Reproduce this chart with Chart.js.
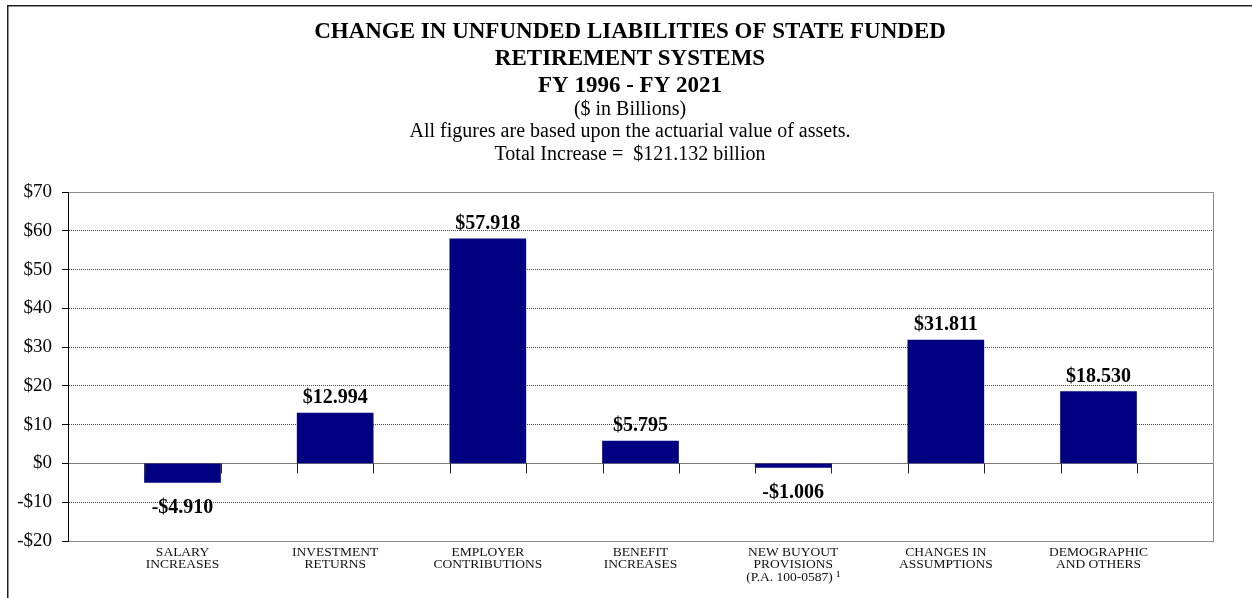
<!DOCTYPE html>
<html>
<head>
<meta charset="utf-8">
<script src="https://cdn.jsdelivr.net/npm/chart.js@4.4.1/dist/chart.umd.min.js"></script>
<style>
  html, body { margin: 0; padding: 0; background: #fff; }
  canvas { display: block; }
</style>
</head>
<body>
<canvas id="c" width="1252" height="598"></canvas>
<script>
// ---- data ----
const categories = [
  ["SALARY", "INCREASES"],
  ["INVESTMENT", "RETURNS"],
  ["EMPLOYER", "CONTRIBUTIONS"],
  ["BENEFIT", "INCREASES"],
  ["NEW BUYOUT", "PROVISIONS", "(P.A. 100-0587) \u00B9"],
  ["CHANGES IN", "ASSUMPTIONS"],
  ["DEMOGRAPHIC", "AND OTHERS"]
];
const values = [-4.910, 12.994, 57.918, 5.795, -1.006, 31.811, 18.530];
const yTicks = [-20, -10, 0, 10, 20, 30, 40, 50, 60, 70];
const titleLines = [
  "CHANGE IN UNFUNDED LIABILITIES OF STATE FUNDED",
  "RETIREMENT SYSTEMS",
  "FY 1996 - FY 2021"
];
const subtitleLines = [
  "($ in Billions)",
  "All figures are based upon the actuarial value of assets.",
  "Total Increase =  $121.132 billion"
];

const SERIF = '"Liberation Serif", "Times New Roman", Times, serif';
const money = v => (v < 0 ? '-$' : '$') + Math.abs(v).toFixed(3);
const moneyTick = v => (v < 0 ? '-$' : '$') + Math.abs(v);

const pagePlugin = {
  id: 'page',
  beforeDraw(chart) {
    const ctx = chart.ctx;
    ctx.save();
    ctx.fillStyle = '#fff';
    ctx.fillRect(0, 0, chart.width, chart.height);
    ctx.fillStyle = '#222';
    ctx.fillRect(7, 5, chart.width - 7, 1.5);
    ctx.fillRect(7, 5, 1.5, chart.height - 5);
    ctx.restore();
  }
};

const labelPlugin = {
  id: 'barLabels',
  afterDatasetsDraw(chart) {
    const ctx = chart.ctx;
    const meta = chart.getDatasetMeta(0);
    const zeroY = chart.scales.y.getPixelForValue(0);
    ctx.save();
    ctx.strokeStyle = '#222';
    ctx.lineWidth = 1;
    meta.data.forEach(bar => {
      const half = bar.width / 2;
      [bar.x - half, bar.x + half].forEach(px => {
        const xx = Math.round(px) + 0.5;
        ctx.beginPath();
        ctx.moveTo(xx, zeroY);
        ctx.lineTo(xx, zeroY + 10);
        ctx.stroke();
      });
    });
    ctx.fillStyle = '#000';
    ctx.font = 'bold 20px ' + SERIF;
    ctx.textAlign = 'center';
    ctx.textBaseline = 'alphabetic';
    meta.data.forEach((bar, i) => {
      const v = values[i];
      const y = v >= 0 ? bar.y - 10 : bar.y + 31;
      ctx.fillText(money(v), bar.x, y);
    });
    ctx.restore();
  }
};

const gridColor = ctx => {
  const v = ctx.tick ? ctx.tick.value : null;
  if (v === 0) return '#7a7a7a';
  if (v === 70 || v === -20) return '#8c8c8c';
  return '#4a4a4a';
};

new Chart(document.getElementById('c'), {
  type: 'bar',
  data: {
    datasets: [{
      data: values.map((v, i) => ({ x: i, y: v })),
      backgroundColor: '#000080',
      borderColor: '#2a2a9a',
      borderWidth: 0,
      barThickness: 76
    }]
  },
  options: {
    responsive: false,
    animation: false,
    devicePixelRatio: 1,
    layout: { padding: { left: 8, right: 0, top: 0, bottom: 0 } },
    plugins: {
      legend: { display: false },
      tooltip: { enabled: false },
      title: {
        display: true,
        text: titleLines,
        color: '#000',
        font: { family: SERIF, size: 23, weight: 'bold', lineHeight: 27 / 23 },
        padding: { top: 19, bottom: 0 }
      },
      subtitle: {
        display: true,
        text: subtitleLines,
        color: '#000',
        font: { family: SERIF, size: 20, weight: 'normal', lineHeight: 22.5 / 20 },
        padding: { top: -2, bottom: 26.5 }
      }
    },
    scales: {
      x: {
        type: 'linear',
        offset: false,
        min: -0.75,
        max: 6.75,
        afterBuildTicks: axis => { axis.ticks = categories.map((_, i) => ({ value: i })); },
        afterFit: axis => { axis.height = 57; },
        grid: { display: false, drawTicks: false, tickLength: 0, offset: false },
        border: { display: true, color: '#8c8c8c', width: 1 },
        ticks: {
          autoSkip: false,
          maxRotation: 0,
          minRotation: 0,
          padding: 5,
          color: '#111',
          font: { family: SERIF, size: 13.5, lineHeight: 0.92 },
          callback: v => categories[v] || ''
        }
      },
      y: {
        min: -20,
        max: 70,
        afterBuildTicks: axis => { axis.ticks = yTicks.map(v => ({ value: v })); },
        afterFit: axis => { axis.width = 60; },
        grid: {
          display: true,
          drawTicks: true,
          tickLength: 6,
          tickColor: '#000',
          color: gridColor,
          lineWidth: 1
        },
        border: {
          display: true,
          color: '#000',
          width: 1,
          dash: ctx => (ctx.tick && ![0, 70, -20].includes(ctx.tick.value)) ? [1, 1] : []
        },
        ticks: {
          padding: 10,
          color: '#000',
          font: { family: SERIF, size: 19 },
          callback: v => moneyTick(v)
        }
      },
      yr: {
        position: 'right',
        display: true,
        min: 0,
        max: 1,
        afterFit: axis => { axis.width = 39; },
        grid: { display: false, drawTicks: false },
        border: { display: true, color: '#8c8c8c', width: 1 },
        ticks: { display: false }
      }
    }
  },
  plugins: [pagePlugin, labelPlugin]
});
</script>
</body>
</html>
